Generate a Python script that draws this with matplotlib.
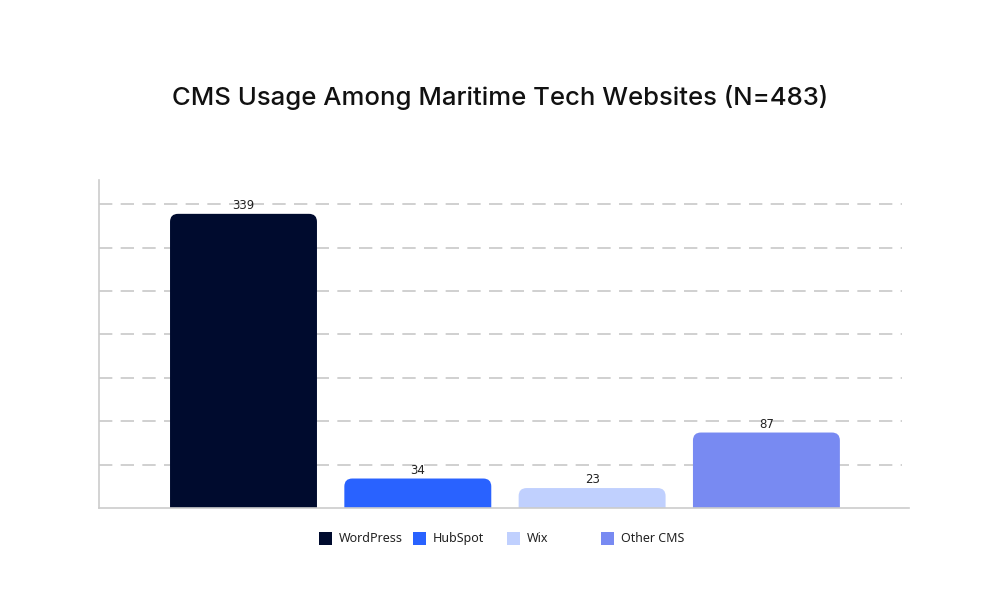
import matplotlib
matplotlib.use("Agg")
import matplotlib.pyplot as plt
from matplotlib.path import Path
from matplotlib.patches import PathPatch, Rectangle

# =======================================================
# Data
# =======================================================

categories = ["WordPress", "HubSpot", "Wix", "Other CMS"]
counts = [339, 34, 23, 87]
colors = ["#000b2e", "#2962ff", "#c0d0fe", "#788af2"]
title = "CMS Usage Among Maritime Tech Websites (N=483)"


def rounded_top(ax, rect, radius_px=8):
    """Swap a bar rectangle for one with rounded top corners."""
    x0, w, h = rect.get_x(), rect.get_width(), rect.get_height()
    inv = ax.transData.inverted()
    p0 = inv.transform((0, 0))
    p1 = inv.transform((radius_px, radius_px))
    rx, ry = p1[0] - p0[0], p1[1] - p0[1]
    ry = min(ry, h)
    x1 = x0 + w
    verts = [
        (x0, 0), (x0, h - ry), (x0, h), (x0 + rx, h),
        (x1 - rx, h), (x1, h), (x1, h - ry), (x1, 0), (x0, 0),
    ]
    codes = [Path.MOVETO, Path.LINETO, Path.CURVE3, Path.CURVE3,
             Path.LINETO, Path.CURVE3, Path.CURVE3, Path.LINETO, Path.CLOSEPOLY]
    patch = PathPatch(Path(verts, codes), facecolor=rect.get_facecolor(),
                      edgecolor="none", zorder=2)
    rect.remove()
    ax.add_patch(patch)


fig = plt.figure(figsize=(10, 6), dpi=100)
ax = fig.add_axes([0.099, 0.1533, 0.81, 0.5467])

xs = list(range(len(categories)))
ax.set_xlim(-0.829, 3.818)
ax.set_ylim(0, 378)

bars = ax.bar(xs, counts, width=0.843, color=colors, zorder=2)
for rect in list(bars):
    rounded_top(ax, rect)

for x, v in zip(xs, counts):
    ax.text(x, v + 2, str(v), ha="center", va="bottom", fontsize=8.5,
            color="#222222", family="DejaVu Sans", zorder=3)

# grid drawn by hand so it stops a little short of the axis end
for gy in range(50, 351, 50):
    ax.plot([-0.829, 3.78], [gy, gy], color="#c8c8c8", linestyle=(0, (8, 5)),
            linewidth=1.2, zorder=1)

ax.tick_params(left=False, bottom=False, labelleft=False, labelbottom=False)
ax.set_xticks([])
ax.set_yticks([])
for side in ["top", "right"]:
    ax.spines[side].set_visible(False)
for side in ["left", "bottom"]:
    ax.spines[side].set_color("#cccccc")
    ax.spines[side].set_linewidth(1.2)

fig.text(0.5, 0.838, title, ha="center", va="center", fontsize=18.5,
         family="Inter", fontweight="medium", color="#111111")

# legend, fixed-width slots
for i, (name, c) in enumerate(zip(categories, colors)):
    lx = 0.319 + i * 0.094
    fig.patches.append(Rectangle((lx, 0.0917), 0.013, 0.0217, transform=fig.transFigure,
                                 facecolor=c, edgecolor="none"))
    fig.text(lx + 0.02, 0.1025, name, ha="left", va="center", fontsize=9,
             family="Noto Sans", color="#222222")

fig.savefig("out.png", dpi=100)
